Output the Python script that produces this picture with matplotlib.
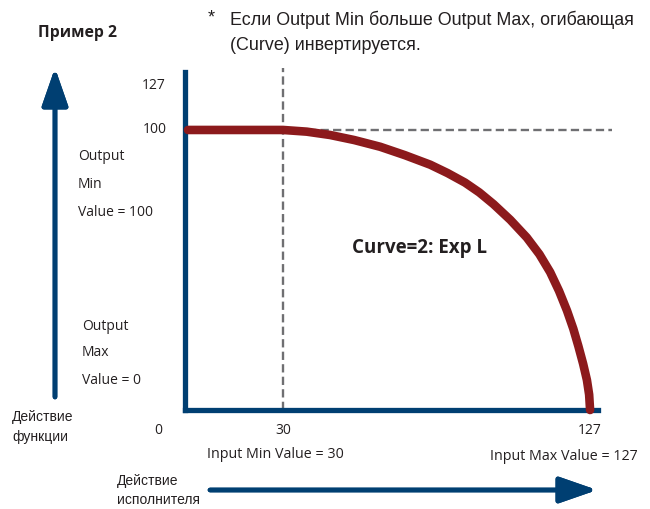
import matplotlib
matplotlib.use('Agg')
from matplotlib import pyplot as plt
from matplotlib import font_manager

# curve: output vs input (Output Min = 100, Output Max = 0, Input Min = 30)
curve_x = [0, 30, 37.5, 44.9, 52.5, 60.7, 68.5, 76.5, 82.0, 87.5, 92.0,
           96.5, 101.8, 107.0, 111.0, 114.4, 117.2, 119.7, 121.7, 123.3,
           124.8, 126.0, 126.7, 127]
curve_y = [100, 100, 99.4, 98.2, 96.4, 94.0, 91.0, 87.6, 84.6, 81.2, 77.7,
           73.5, 67.9, 61.6, 55.6, 49.2, 42.5, 35.5, 29.0, 22.8,
           16.5, 10.7, 5.5, 0]

input_min = 30
input_max = 127
output_min = 100
x_ticks = [0, 30, 127]
y_ticks = [100, 127]

navy = '#003f72'
red = '#8c1a1c'
grey = '#6f6f72'
txt = '#231f20'

names = {f.name for f in font_manager.fontManager.ttflist}
narrow = ['Liberation Sans Narrow'] if 'Liberation Sans Narrow' in names else []
narrow = narrow + ['Liberation Sans', 'DejaVu Sans']
myriad = ['Open Sans', 'DejaVu Sans']

W, H = 650, 509
fig = plt.figure(figsize=(W / 100, H / 100), dpi=100)


def fx(x):
    return x / W


def fy(y):
    return 1 - y / H


# chart box in pixels: left 185, right 598, top 72, bottom 410
ax = fig.add_axes([fx(185), fy(410), fx(598) - fx(185), fy(72) - fy(410)])
ax.set_xlim(-0.95, 129.5)
ax.set_ylim(0, 120.7)
for s in ['top', 'right']:
    ax.spines[s].set_visible(False)
for s in ['left', 'bottom']:
    ax.spines[s].set_color(navy)
    ax.spines[s].set_linewidth(3.8)
ax.set_xticks([])
ax.set_yticks([])
ax.patch.set_alpha(0)

ax.plot([input_min, input_min], [0, 122.2], color=grey, lw=1.7,
        ls=(0, (3.5, 1.8)), clip_on=False, zorder=2)
ax.plot([input_min, 134], [output_min, output_min], color=grey, lw=1.7,
        ls=(0, (3.5, 1.8)), clip_on=False, zorder=2)
ax.plot(curve_x, curve_y, color=red, lw=6.2, solid_capstyle='round',
        solid_joinstyle='round', clip_on=False, zorder=3)

ax.text(73, 58, 'Curve=2: Exp L', family=myriad, fontweight='bold',
        fontsize=13.5, color=txt, ha='center', va='center')

# tick labels
ax.annotate(str(x_ticks[0]), (x_ticks[0], 0), xytext=(-30, -20),
            textcoords='offset pixels', ha='center', va='center',
            family=myriad, fontsize=10, color=txt, annotation_clip=False)
for v in x_ticks[1:]:
    ax.annotate(str(v), (v, 0), xytext=(0, -20), textcoords='offset pixels',
                ha='center', va='center', family=myriad, fontsize=10,
                color=txt, annotation_clip=False)
ax.annotate(str(y_ticks[0]), (0, y_ticks[0]), xytext=(-21, 0),
            textcoords='offset pixels', ha='right', va='center',
            family=myriad, fontsize=10, color=txt, annotation_clip=False)
fig.text(fx(166), fy(86), str(y_ticks[1]), ha='right', va='center',
         family=myriad, fontsize=10, color=txt)

# left side labels
for i, s in enumerate(['Output', 'Min', 'Value = 100']):
    fig.text(fx(78), fy(157 + 27.5 * i), s, ha='left', va='center',
             family=myriad, fontsize=10, color=txt)
for i, s in enumerate(['Output', 'Max', 'Value = 0']):
    fig.text(fx(82), fy(326 + 27 * i), s, ha='left', va='center',
             family=myriad, fontsize=10, color=txt)

fig.text(fx(207), fy(454), 'Input Min Value = 30', ha='left', va='center',
         family=myriad, fontsize=10.3, color=txt)
fig.text(fx(490), fy(456), 'Input Max Value = 127', ha='left', va='center',
         family=myriad, fontsize=10.3, color=txt)

# header
fig.text(fx(38), fy(33), 'Пример 2', ha='left', va='center', family=myriad,
         fontweight='bold', fontsize=11.3, color=txt)
fig.text(fx(208), fy(18), '*', ha='left', va='center', family=narrow,
         fontsize=13, color=txt)
fig.text(fx(230), fy(20), 'Если Output Min больше Output Max, огибающая',
         ha='left', va='center', family=narrow, fontsize=12.9, color=txt)
fig.text(fx(230), fy(46), '(Curve) инвертируется.', ha='left', va='center',
         family=narrow, fontsize=12.9, color=txt)

# arrows
fig.text(fx(12), fy(417), 'Действие', ha='left', va='center', family=narrow,
         fontsize=10, color=txt)
fig.text(fx(12), fy(437), 'функции', ha='left', va='center', family=narrow,
         fontsize=10, color=txt)
fig.text(fx(117), fy(481), 'Действие', ha='left', va='center', family=narrow,
         fontsize=10, color=txt)
fig.text(fx(117), fy(500), 'исполнителя', ha='left', va='center',
         family=narrow, fontsize=10, color=txt)

arrow = dict(arrowstyle='-|>,head_length=1.15,head_width=0.4', lw=3.4,
             color=navy, mutation_scale=20, shrinkA=0, shrinkB=0)
fig.add_artist(plt.annotate('', xy=(fx(55), fy(68)), xytext=(fx(55), fy(397)),
                            xycoords='figure fraction',
                            textcoords='figure fraction', arrowprops=arrow))
fig.add_artist(plt.annotate('', xy=(fx(597), fy(490)),
                            xytext=(fx(210), fy(490)),
                            xycoords='figure fraction',
                            textcoords='figure fraction', arrowprops=arrow))

plt.savefig('out.png', dpi=100)
